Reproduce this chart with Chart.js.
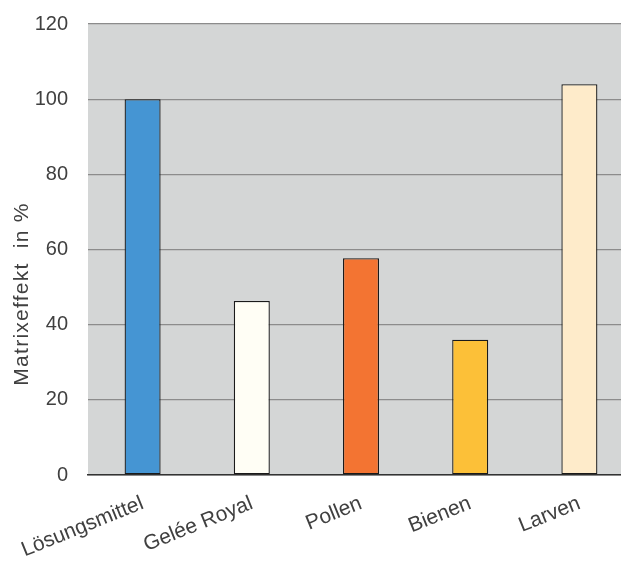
<!DOCTYPE html>
<html>
<head>
<meta charset="utf-8">
<script src="https://cdn.jsdelivr.net/npm/chart.js@4"></script>
<style>
  html, body { margin: 0; padding: 0; background: #fff; overflow: hidden; }
  #wrap { width: 634px; height: 562px; }
</style>
</head>
<body>
<div id="wrap"><canvas id="grafico" width="634" height="562"></canvas></div>
<script>
const kategorien = ["Lösungsmittel", "Gelée Royal", "Pollen", "Bienen", "Larven"];
const matrixeffekt = [100, 46.3, 57.7, 36, 104];
const farben = ["#4595d3", "#fffef5", "#f37432", "#fcc038", "#feebca"];
const yTicks = [0, 20, 40, 60, 80, 100, 120];
const yTitel = "Matrixeffekt  in %";

// grauer Hintergrund der Zeichenfläche
const hintergrund = {
    id: "hintergrund",
    beforeDraw(chart) {
        let a = chart.chartArea;
        let ctx = chart.ctx;
        ctx.save();
        ctx.fillStyle = "#d4d6d6";
        ctx.fillRect(a.left, a.top, a.right - a.left, a.bottom - a.top);
        ctx.restore();
    }
};

// Achsentitel links, etwas nach unten versetzt wie im Original
const achsentitel = {
    id: "achsentitel",
    afterDraw(chart) {
        let ctx = chart.ctx;
        ctx.save();
        ctx.font = "21px 'Liberation Sans'";
        ctx.fillStyle = "#404040";
        let breite = ctx.measureText(yTitel).width;
        if ("letterSpacing" in ctx) {
            let extra = (182 - breite) / (yTitel.length - 1);
            if (extra > 0) ctx.letterSpacing = extra + "px";
        }
        ctx.translate(28, 294);
        ctx.rotate(-Math.PI / 2);
        ctx.textAlign = "center";
        ctx.textBaseline = "alphabetic";
        ctx.fillText(yTitel, 0, 0);
        ctx.restore();
    }
};

// keine automatische Zusatzpolsterung durch die Achsenbeschriftungen
function ohnePolster(axis) {
    axis.paddingTop = 0;
    axis.paddingBottom = 0;
    axis.paddingLeft = 0;
    axis.paddingRight = 0;
}

let ctx = document.getElementById("grafico").getContext("2d");
new Chart(ctx, {
    type: "bar",
    data: {
        labels: kategorien,
        datasets: [{
            data: matrixeffekt,
            backgroundColor: farben,
            borderColor: "#1a1a1a",
            borderWidth: 1.3,
            borderSkipped: false,
            barPercentage: 0.33,
            categoryPercentage: 1
        }]
    },
    options: {
        responsive: false,
        animation: false,
        layout: { padding: { top: 24, right: 0, left: 0, bottom: 0 } },
        plugins: {
            legend: { display: false },
            tooltip: { enabled: false }
        },
        scales: {
            y: {
                min: 0,
                max: 120,
                afterBuildTicks: axis => { axis.ticks = yTicks.map(v => ({ value: v })); },
                afterFit: axis => { axis.width = 88; ohnePolster(axis); },
                border: { display: false },
                grid: { color: "#8c8c8c", lineWidth: 1.3, drawTicks: false },
                ticks: {
                    padding: 20,
                    color: "#404040",
                    font: { family: "Liberation Sans", size: 20 }
                }
            },
            x: {
                afterFit: axis => { axis.height = 87; ohnePolster(axis); },
                border: { display: true, color: "#333333", width: 1.5 },
                grid: { display: false, drawTicks: false },
                ticks: {
                    padding: 16,
                    color: "#404040",
                    minRotation: 22,
                    maxRotation: 22,
                    autoSkip: false,
                    font: { family: "Liberation Sans", size: 21 }
                }
            }
        }
    },
    plugins: [hintergrund, achsentitel]
});
</script>
</body>
</html>
